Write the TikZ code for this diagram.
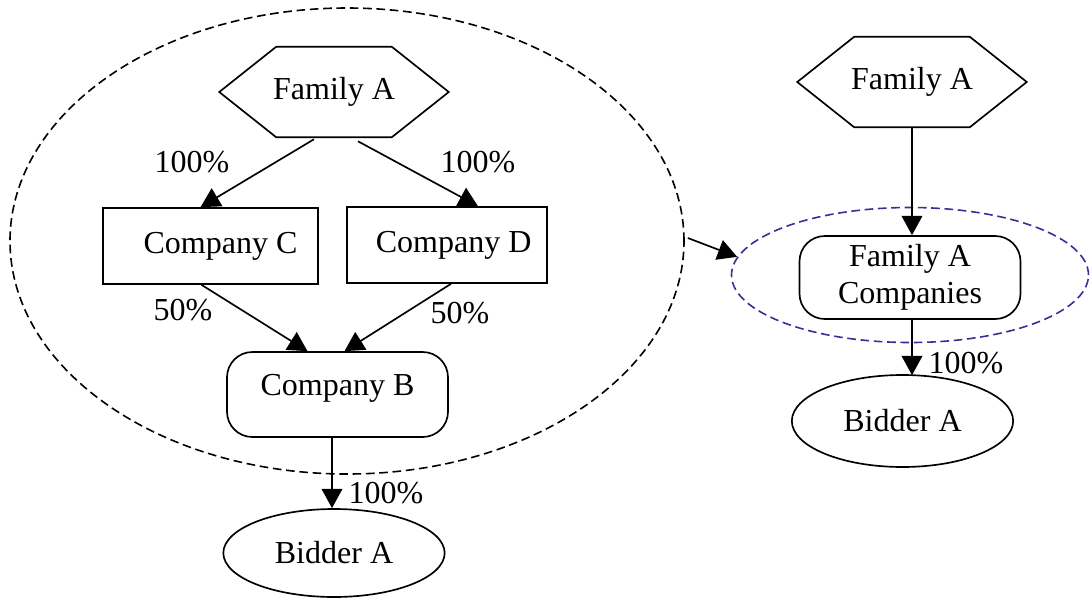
\documentclass[tikz,border=0pt]{standalone}
\usepackage{fontspec}
\setmainfont{Liberation Serif}
\usetikzlibrary{shapes.geometric,arrows.meta,calc}
\definecolor{grpblue}{RGB}{50,50,150}
\newcommand\drawhexagon[1]{%
  \draw[line] (#1.west) -- ($(#1.north west)+(57,0)$) -- ($(#1.north east)+(-57,0)$)
    -- (#1.east) -- ($(#1.south east)+(-57,0)$) -- ($(#1.south west)+(57,0)$) -- cycle;}
\begin{document}
\begin{tikzpicture}[x=0.75pt,y=-0.75pt,
  every node/.style={font=\fontsize{24}{28}\selectfont},
  line/.style={line width=1.25pt},
  conn/.style={line width=1.25pt,-{Triangle[length=14.5pt,width=15.5pt]}},
  hexbox/.style={rectangle,minimum width=171.75pt,minimum height=67.5pt,inner sep=0pt},
  sqbox/.style={draw,line width=1.25pt,rectangle,inner sep=0pt,minimum height=57pt},
  rbox/.style={draw,line width=1.25pt,rectangle,rounded corners=19pt,inner sep=0pt,minimum width=165.75pt},
  oval/.style={draw,line width=1.25pt,ellipse,inner sep=0pt,minimum width=166pt},
  grpdash/.style={draw,line width=1.2pt,ellipse,dash pattern=on 6.5pt off 3.5pt,inner sep=0pt},
  lbl/.style={anchor=base,inner sep=0pt}
]
\useasboundingbox (0,0) rectangle (1090,601);

% group ellipses
\node[grpdash,minimum width=505.5pt,minimum height=349.5pt] (grp) at (347,241) {};
\node[grpdash,draw=grpblue,minimum width=267.75pt,minimum height=101.25pt] (grp2) at (910,275) {};

% left diagram
\node[hexbox] (fa1) at (334,92) {Family A};
\drawhexagon{fa1}
\node[sqbox,minimum width=161.25pt] (cc) at (210.5,246) {\hspace*{15pt}Company C};
\node[sqbox,minimum width=150pt] (cd) at (447,245) {\hspace*{10pt}Company D};
\node[rbox,minimum height=63.75pt] (cb) at (337.5,394.5) {\raisebox{14pt}{Company B}};
\node[oval,minimum height=66pt] (bA1) at (334,553) {Bidder A};

% right diagram
\node[hexbox] (fa2) at (912,82) {Family A};
\drawhexagon{fa2}
\node[rbox,minimum height=62.25pt,align=center] (fac) at (910,277.5) {Family A\\Companies};
\node[oval,minimum height=69pt] (bA2) at (902.5,421) {Bidder A};

% connectors
\draw[conn] ($(fa1.south)+(-20,2)$) -- ($(cc.north)+(-10,0)$);
\draw[conn] ($(fa1.south)+(24,4)$) -- ($(cd.north)+(31,0)$);
\draw[conn] ($(cc.south)+(-9,0)$) -- ($(cb.north)+(-30,0)$);
\draw[conn] ($(cd.south)+(4,0)$) -- ($(cb.north)+(7,0)$);
\draw[conn] ($(cb.south)+(-5.5,0)$) -- ($(bA1.north)+(-2,0)$);
\draw[conn] ($(grp.east)+(3,-3)$) -- (grp2.174);
\draw[conn] (fa2.south) -- (fa2.south |- fac.north);
\draw[conn] (fa2.south |- fac.south) -- ($(fa2.south |- bA2.north)+(0,1)$);

% labels
\node[lbl] (l1) at (192,172) {100\%};
\node[lbl] (l2) at (478,172) {100\%};
\node[lbl] (l3) at (183,320) {50\%};
\node[lbl] (l4) at (460,323) {50\%};
\node[lbl] (l5) at (386,503) {100\%};
\node[lbl] (l6) at (966,373) {100\%};
\end{tikzpicture}
\end{document}
